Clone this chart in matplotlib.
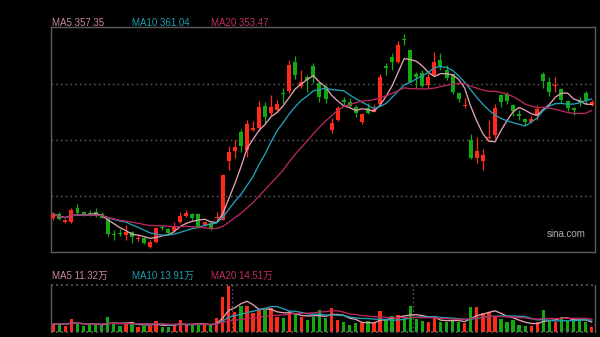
import numpy as np
import pandas as pd
import matplotlib
matplotlib.use('Agg')
import matplotlib.pyplot as plt

# ---------------- data ----------------
opens = [283.2, 286.1, 280.9, 281.1, 290.0, 287.4, 286.8, 287.4, 286.4, 282.9,
         273.1, 273.8, 272.5, 274.1, 269.9, 270.5, 264.7, 267.9, 277.7, 276.4,
         275.0, 280.6, 285.1, 286.1, 286.1, 278.6, 280.3, 283.5, 282.5, 320.6,
         327.2, 339.6, 327.7, 340.7, 341.8, 356.5, 351.8, 353.4, 364.4, 366.3,
         384.9, 369.0, 375.2, 382.5, 371.3, 368.8, 340.7, 347.5, 359.9, 359.1,
         355.9, 345.6, 354.8, 352.7, 357.3, 382.3, 388.2, 384.6, 399.5, 392.7,
         377.1, 378.0, 370.0, 376.5, 386.2, 379.7, 376.8, 364.6, 356.0, 334.2,
         322.7, 320.6, 335.2, 337.5, 363.5, 364.1, 357.0, 350.8, 347.9, 345.8,
         350.0, 377.4, 372.1, 369.0, 367.2, 359.6, 355.0, 359.9, 365.0, 357.0]
highs = [287.6, 287.7, 282.9, 290.0, 292.6, 288.0, 288.7, 290.0, 287.4, 283.5,
         275.7, 276.4, 279.0, 275.0, 272.5, 271.2, 269.2, 277.7, 279.0, 277.0,
         280.9, 287.6, 288.7, 286.8, 286.8, 281.2, 280.9, 287.4, 312.1, 330.5,
         334.2, 341.4, 347.2, 346.6, 359.6, 359.1, 363.5, 360.2, 368.0, 386.2,
         388.8, 379.7, 376.5, 384.3, 371.9, 370.0, 348.5, 356.3, 362.3, 361.5,
         357.0, 351.8, 358.3, 357.6, 377.1, 384.3, 390.8, 398.6, 403.1, 393.4,
         378.4, 379.7, 377.8, 391.4, 390.8, 383.0, 377.4, 365.4, 361.5, 338.1,
         336.2, 328.4, 347.2, 357.6, 364.4, 365.7, 357.6, 353.7, 348.5, 350.1,
         357.0, 378.4, 375.2, 375.3, 368.0, 360.2, 355.7, 362.2, 366.1, 359.9]
lows = [282.5, 282.2, 280.3, 280.3, 286.1, 284.8, 284.8, 284.2, 283.2, 271.8,
        269.2, 271.8, 269.2, 267.3, 268.6, 266.6, 263.7, 267.3, 276.0, 272.8,
        274.4, 280.3, 284.2, 282.2, 277.0, 278.0, 275.7, 282.2, 282.2, 314.7,
        322.5, 326.4, 323.2, 340.1, 340.1, 345.3, 350.5, 352.4, 358.3, 364.8,
        373.9, 368.0, 365.4, 371.3, 359.1, 358.3, 338.8, 346.6, 357.0, 355.7,
        349.3, 344.9, 351.1, 352.1, 356.6, 376.5, 379.7, 384.0, 396.0, 371.9,
        368.0, 368.7, 368.0, 375.8, 379.7, 373.2, 364.4, 358.9, 354.7, 321.9,
        319.3, 314.7, 334.9, 335.8, 355.7, 357.6, 349.5, 347.2, 344.0, 345.3,
        347.2, 368.0, 363.1, 365.6, 358.3, 353.1, 350.5, 356.3, 357.6, 356.3]
closes = [286.1, 282.9, 282.2, 289.0, 286.8, 285.5, 285.8, 284.5, 283.5, 272.8,
          272.5, 273.1, 274.7, 271.2, 270.5, 267.3, 267.9, 277.0, 276.7, 273.8,
          278.0, 284.8, 286.8, 283.5, 277.7, 280.6, 276.7, 284.2, 311.5, 326.6,
          329.7, 330.3, 344.4, 341.7, 355.9, 349.2, 355.9, 357.6, 363.8, 383.0,
          376.5, 371.9, 373.2, 375.3, 362.2, 360.7, 345.1, 354.7, 359.2, 356.3,
          351.6, 350.8, 351.6, 354.4, 375.3, 380.7, 384.6, 396.0, 398.9, 372.2,
          375.3, 369.3, 375.2, 385.2, 381.8, 374.8, 365.6, 360.7, 356.6, 322.7,
          327.1, 324.5, 336.2, 354.8, 359.1, 359.6, 353.1, 350.1, 345.8, 347.9,
          354.4, 372.6, 365.6, 370.0, 360.2, 355.3, 353.4, 358.6, 360.2, 358.9]
volumes = [9.1, 9.9, 7.4, 14.6, 9.1, 6.6, 8.0, 8.5, 7.4, 17.3,
           9.1, 7.4, 9.1, 11.0, 6.3, 7.4, 6.6, 12.9, 5.5, 6.3,
           8.0, 14.0, 8.0, 8.0, 8.5, 8.0, 7.4, 15.4, 39.3, 50.6,
           22.0, 29.4, 29.4, 20.9, 24.5, 24.5, 26.4, 16.5, 15.7, 23.9,
           20.1, 16.5, 13.8, 16.5, 25.0, 15.7, 27.0, 14.0, 11.8, 8.5,
           9.9, 9.9, 12.9, 10.2, 23.1, 13.5, 17.6, 19.5, 15.7, 29.4,
           14.6, 12.9, 11.8, 15.7, 11.8, 11.8, 13.5, 11.8, 9.9, 28.3,
           28.3, 21.2, 22.0, 18.4, 14.6, 11.8, 13.5, 8.5, 7.4, 7.4,
           11.0, 25.0, 14.0, 11.0, 17.3, 12.1, 14.0, 14.0, 11.0, 5.5]

price_labels = ['MA5 357.35', 'MA10 361.04', 'MA20 353.47']
volume_labels = ['MA5 11.32万', 'MA10 13.91万', 'MA20 14.51万']
ma_windows = [5, 10, 20]

# ---------------- style ----------------
RED = '#ff2a1a'
GREEN = '#12a912'
MA_LINE_COLORS = ['#e2a2b2', '#22a0b8', '#b8285e']
MA_TEXT_COLORS = ['#c88896', '#1c9cb2', '#c22e5e']
BG = '#000000'
BORDER = '#5c5c5c'
DOT = '#5a5a5a'

o = np.array(opens); h = np.array(highs); l = np.array(lows); c = np.array(closes)
v = np.array(volumes)
n = len(c)
x = np.arange(n)
up = c >= o
cols = np.where(up, RED, GREEN)

fig = plt.figure(figsize=(6, 3.37), dpi=100, facecolor=BG)
ax = fig.add_axes([51/600, (337-252.3)/337, 544/600, 225/337], facecolor=BG)
axv = fig.add_axes([51/600, (337-332.3)/337, 544/600, 47/337], facecolor=BG)

xlim = (-0.38, 89.54)
ylo, yhi = 261.2, 407.45

# price panel
for frac in (0.25, 0.5, 0.75):
    ax.axhline(ylo + frac*(yhi-ylo), color=DOT, lw=1.0, ls=(0, (1.2, 2.2)), zorder=0)
ax.vlines(x, l, h, colors=cols, lw=0.9, zorder=2)
body_h = np.maximum(np.abs(c - o), 0.7)
ax.bar(x, body_h, bottom=np.minimum(o, c), width=0.66, color=cols, linewidth=0, zorder=3)
cs = pd.Series(c)
for w, col in zip(ma_windows, MA_LINE_COLORS):
    ax.plot(x, cs.rolling(w, min_periods=1).mean(), color=col, lw=0.95, zorder=4)
ax.set_xlim(*xlim)
ax.set_ylim(ylo, yhi)
ax.set_xticks([]); ax.set_yticks([])
for s in ax.spines.values():
    s.set_color(BORDER); s.set_linewidth(1.0)
ax.text(0.982, 0.082, 'sina.com', transform=ax.transAxes, ha='right', va='center',
        color='#b0b0b0', fontsize=7, family='Liberation Sans')

# volume panel
vmax = 51.7
axv.bar(x, v, width=0.55, color=cols, linewidth=0, zorder=2)
vs = pd.Series(v)
for w, col in zip(ma_windows, MA_LINE_COLORS):
    axv.plot(x, vs.rolling(w, min_periods=1).mean(), color=col, lw=0.95, zorder=3)
axv.set_xlim(*xlim)
axv.set_ylim(0, vmax)
axv.set_xticks([]); axv.set_yticks([])
for side in ('top', 'bottom'):
    axv.spines[side].set_visible(False)
for side in ('left', 'right'):
    axv.spines[side].set_color(BORDER); axv.spines[side].set_linewidth(1.0)
axv.axhline(vmax, color=DOT, lw=1.2, ls=(0, (1.2, 1.8)), clip_on=False)
axv.axhline(0, color=DOT, lw=1.2, ls=(0, (1.2, 1.8)), clip_on=False)
for xb in (29.5, 59.5):
    axv.axvline(xb, color=DOT, lw=1.0, ls=(0, (1.2, 1.8)), zorder=1)

# labels
lab_x = [52/600, 131.7/600, 211/600]
for t, xx, col in zip(price_labels, lab_x, MA_TEXT_COLORS):
    fig.text(xx, 1 - 22.5/337, t, color=col, fontsize=7, va='center', ha='left',
             family=['Liberation Sans', 'Noto Sans CJK SC'])
for t, xx, col in zip(volume_labels, lab_x, MA_TEXT_COLORS):
    fig.text(xx, 1 - 276/337, t, color=col, fontsize=7, va='center', ha='left',
             family=['Liberation Sans', 'Noto Sans CJK SC'])

fig.savefig('out.png', dpi=100, facecolor=BG)
